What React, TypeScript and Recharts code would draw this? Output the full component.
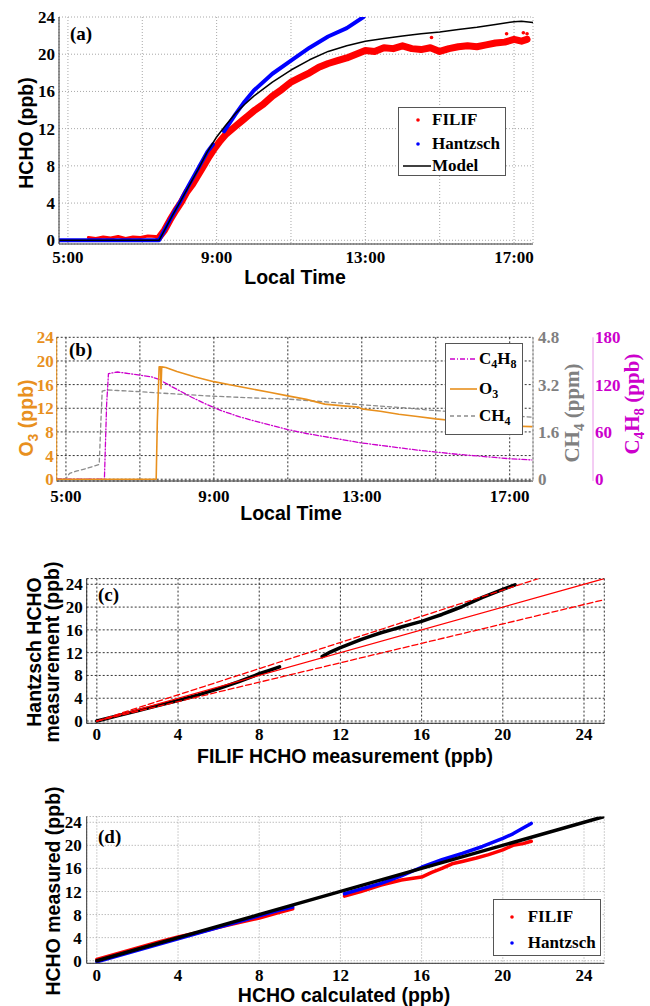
import React from "react";
import {
  ComposedChart,
  Line,
  Scatter,
  XAxis,
  YAxis,
  CartesianGrid,
  Legend,
  Label,
} from "recharts";

const SERIF = '"Liberation Serif", "Times New Roman", Times, serif';
const SANS = '"Liberation Sans", Arial, Helvetica, sans-serif';

// (a) HCHO time series (local time in hours)
const filifFlatTime = [5.55, 5.75, 5.95, 6.15, 6.35, 6.55, 6.75, 6.95, 7.15, 7.35, 7.45];
const filifFlatHcho = [0.3, 0.2, 0.35, 0.25, 0.4, 0.2, 0.35, 0.3, 0.45, 0.4, 0.3];
const filifTime = [
  7.45, 7.6, 7.75, 7.9, 8.05, 8.2, 8.35, 8.5, 8.65, 8.8, 8.95, 9.1, 9.25, 9.4, 9.55, 9.7,
  9.85, 10.0, 10.25, 10.5, 10.75, 11.0, 11.25, 11.5, 11.75, 12.0, 12.25, 12.5, 12.75, 13.0,
  13.25, 13.5, 13.75, 14.0, 14.25, 14.5, 14.75, 15.0, 15.25, 15.5, 15.75, 16.0, 16.25, 16.5,
  16.75, 17.0, 17.2, 17.35,
];
const filifHcho = [
  0.3, 1.1, 2.2, 3.2, 4.1, 5.2, 6.0, 7.0, 8.0, 9.0, 9.9, 10.7, 11.4, 11.9, 12.4, 12.9,
  13.4, 13.9, 14.6, 15.5, 16.2, 17.0, 17.5, 18.0, 18.6, 19.0, 19.3, 19.6, 20.0, 20.4,
  20.3, 20.7, 20.6, 20.9, 20.6, 20.5, 20.7, 20.3, 20.6, 20.8, 20.9, 20.8, 21.0, 21.2,
  21.3, 21.6, 21.4, 21.6,
];
const filifOutlierTime = [14.78, 16.8, 17.25, 17.35];
const filifOutlierHcho = [21.8, 22.2, 22.3, 22.2];
const hantzschTime = [4.76, 7.45, 7.6, 7.8, 8.0, 8.25, 8.5, 8.75, 8.9, 9.05, 9.2, 9.5, 9.75, 10.0, 10.5, 11.0, 11.5, 12.0, 12.5, 12.95];
const hantzschHcho = [0, 0, 1.1, 2.6, 4.0, 5.9, 7.7, 9.5, 10.3, null, 11.7, 13.5, 14.9, 16.1, 17.9, 19.3, 20.7, 21.9, 22.8, 24.0];
const modelTime = [
  4.76, 7.45, 7.6, 7.8, 8.0, 8.25, 8.5, 8.75, 9.0, 9.25, 9.5, 9.75, 10.0, 10.5, 11.0, 11.5,
  12.0, 12.5, 13.0, 13.5, 14.0, 14.5, 15.0, 15.5, 16.0, 16.5, 17.0, 17.2, 17.51,
];
const modelHcho = [
  0, 0, 1.1, 2.6, 4.0, 5.8, 7.6, 9.5, 11.1, 12.4, 13.6, 14.6, 15.5, 17.0, 18.3, 19.4,
  20.3, 20.9, 21.4, 21.7, 21.95, 22.2, 22.4, 22.65, 22.9, 23.2, 23.5, 23.55, 23.4,
];

// (b) O3, CH4, C4H8
const o3Time = [
  4.75, 7.44, 7.47, 7.52, 7.56, 7.57, 7.59, 7.7, 8.0, 8.5, 9.0, 9.5, 10.0, 10.5, 11.0, 11.5,
  12.0, 12.5, 12.9, 13.0, 13.5, 14.0, 14.5, 15.0, 15.5, 16.0, 16.5, 17.0, 17.6,
];
const o3Ppb = [
  0, 0, 9.5, 19.0, 19.0, 15.3, 19.0, 18.9, 18.2, 17.3, 16.5, 15.9, 15.3, 14.7, 14.1, 13.5,
  12.7, 12.4, 12.2, 11.9, 11.5, 11.0, 10.6, 10.2, 9.9, 9.6, 9.3, 9.0, 8.9,
];
const ch4Time = [4.75, 5.0, 5.1, 5.3, 5.6, 5.9, 5.94, 5.98, 6.1, 6.4, 7.0, 7.5, 8.0, 8.8, 9.5, 10.25, 11.0, 12.0, 13.0, 14.0, 15.0, 16.0, 17.0, 17.6];
const ch4Ppm = [0, 0.02, 0.2, 0.28, 0.38, 0.5, 1.8, 2.98, 3.02, 3.0, 2.96, 2.92, 2.88, 2.82, 2.78, 2.74, 2.71, 2.62, 2.52, 2.43, 2.32, 2.24, 2.15, 2.1];
const c4h8Time = [
  4.75, 6.04, 6.1, 6.15, 6.4, 6.7, 7.0, 7.3, 7.5, 7.8, 8.0, 8.4, 8.8, 9.2, 9.7, 10.25, 11.0,
  11.5, 12.0, 12.5, 13.0, 13.5, 14.0, 14.5, 15.0, 15.5, 16.0, 16.5, 17.0, 17.6,
];
const c4h8Ppb = [
  0, 0, 95, 134, 136, 134, 132, 130, 127, 119, 114, 104, 95, 87, 79, 72, 63,
  58, 54, 50, 46, 43, 40, 37, 34.5, 32, 30, 28, 26, 24.5,
];

// (c) Hantzsch vs FILIF
const hzVsFilifX = [0, 1, 2, 3, 4, 5, 6, 7, 8, 8.5, 9.0, 10.0, 11.1, 11.5, 12, 12.5, 13, 13.5, 14, 14.5, 15, 15.5, 16, 16.5, 17, 17.5, 18, 18.5, 19, 19.5, 20, 20.3, 20.6];
const hzVsFilifY = [0, 0.9, 1.8, 2.7, 3.6, 4.6, 5.7, 6.9, 8.3, 8.9, 9.5, null, 11.3, 12.1, 12.9, 13.6, 14.3, 14.9, 15.5, 16.0, 16.5, 17.0, 17.5, 18.1, 18.7, 19.4, 20.1, 20.9, 21.7, 22.4, 23.1, 23.5, 23.9];
const fitX = [0, 25];
const fitY = [0, 25];
const upperX = [0, 21.75];
const upperY = [0, 25];
const lowerX = [0, 25];
const lowerY = [0, 21.3];

// (d) measured vs calculated
const oneX = [0, 25];
const oneY = [0, 25];
const filifDX = [0, 1, 2, 3, 4, 5, 6, 7, 8, 9, 9.65, 11, 12.2, 13, 14, 15, 16, 16.5, 17, 17.5, 18, 18.7, 19.3, 20, 20.5, 21, 21.4];
const filifDY = [0.2, 1.2, 2.2, 3.2, 4.1, 4.9, 5.8, 6.6, 7.4, 8.4, 9.0, null, 11.2, 12.0, 13.1, 14.0, 14.5, 15.3, 16.0, 16.8, 17.2, 17.8, 18.4, 19.2, 20.0, 20.3, 20.7];
const hzDX = [0, 1, 2, 3, 4, 5, 6, 7, 8, 9, 9.65, 11, 12.2, 13, 14, 15, 16, 17, 18, 19, 19.5, 20, 20.5, 21, 21.4];
const hzDY = [-0.2, 0.8, 1.8, 2.8, 3.8, 4.8, 5.8, 6.8, 7.8, 8.8, 9.3, null, 11.6, 12.4, 13.4, 14.7, 16.2, 17.5, 18.6, 19.8, 20.5, 21.2, 22.0, 23.0, 23.8];

const hourTicks = [5, 7, 9, 11, 13, 15, 17];
const ppbTicks = [0, 4, 8, 12, 16, 20, 24];
const ch4Ticks = [0, 1.6, 3.2, 4.8];
const c4h8Ticks = [0, 60, 120, 180];

const ORANGE = "#e8901e";
const MAGENTA = "#cc00cc";
const GRAY = "#808080";

const pts = (xs: number[], ys: (number | null)[]) => xs.map((x, i) => ({ x, y: ys[i] }));
const hourLabel = (v: number) => (v % 4 === 1 ? `${v}:00` : "");

const tick = (fill = "#000") => ({ fontFamily: SERIF, fontWeight: 700, fontSize: 17, fill });
const title = (fill = "#000", font = SANS, size = 19.5) => ({ fontFamily: font, fontWeight: 700, fontSize: size, fill });
const letter = { fontFamily: SERIF, fontWeight: 700, fontSize: 19, fill: "#000" };

function vTitle(x: number, y: number, body: React.ReactNode, style: React.CSSProperties) {
  return (
    <text transform={`translate(${x},${y}) rotate(-90)`} textAnchor="middle" style={style}>
      {body}
    </text>
  );
}

const dotShape = (color: string) => (p: any) => <circle cx={p.cx} cy={p.cy} r={1.8} fill={color} />;

const boxStyle: React.CSSProperties = {
  position: "relative",
  boxSizing: "border-box",
  background: "#fff",
  border: "1px solid #555",
  fontFamily: SERIF,
  fontWeight: 700,
  fontSize: 17,
  color: "#000",
};

function LegendRow({ y, textX, marker, children }: { y: number; textX: number; marker: React.ReactNode; children: React.ReactNode }) {
  return (
    <div style={{ position: "absolute", left: 0, top: y - 11, height: 22, width: "100%" }}>
      <svg width={textX} height={22} style={{ position: "absolute", left: 0, top: 0 }}>
        {marker}
      </svg>
      <span style={{ position: "absolute", left: textX, top: 0, lineHeight: "22px", whiteSpace: "nowrap" }}>{children}</span>
    </div>
  );
}

const sub = (s: string) => <sub style={{ fontSize: 12, verticalAlign: -4 }}>{s}</sub>;

const common = { dataKey: "y", dot: false, isAnimationActive: false, strokeLinejoin: "round" as const, strokeLinecap: "round" as const };

function PanelA() {
  return (
    <ComposedChart width={650} height={300} margin={{ top: 17, right: 117, bottom: 0, left: 0 }}>
      <CartesianGrid stroke="#a8a8a8" strokeDasharray="1 2" />
      <XAxis type="number" dataKey="x" domain={[4.76, 17.51]} allowDataOverflow ticks={hourTicks} interval={0}
        tickFormatter={hourLabel} tick={tick()} tickLine={false} tickSize={5} tickMargin={2} height={56} stroke="#333">
        <Label content={() => <text x={295} y={284} textAnchor="middle" style={title()}>Local Time</text>} />
      </XAxis>
      <YAxis type="number" dataKey="y" domain={[-0.4, 24]} allowDataOverflow ticks={ppbTicks} interval={0}
        tick={tick()} tickLine={false} tickSize={2} tickMargin={2} width={59} stroke="#333">
        <Label content={() => (
          <g>
            {vTitle(33, 133, "HCHO (ppb)", title())}
            <text x={70} y={40} style={letter}>(a)</text>
          </g>
        )} />
      </YAxis>
      <Line {...common} data={pts(filifFlatTime, filifFlatHcho)} stroke="#ff0000" strokeWidth={3} />
      <Line {...common} data={pts(filifTime, filifHcho)} stroke="#ff0000" strokeWidth={7} />
      <Scatter data={pts(filifOutlierTime, filifOutlierHcho)} dataKey="y" fill="#ff0000" shape={dotShape("#ff0000")} isAnimationActive={false} />
      <Line {...common} data={pts(hantzschTime, hantzschHcho)} stroke="#0000ff" strokeWidth={4} />
      <Line {...common} data={pts(modelTime, modelHcho)} stroke="#000" strokeWidth={1.5} />
      <Legend verticalAlign="middle" align="center" layout="horizontal"
        wrapperStyle={{ left: 398, top: 107, width: 108, height: 69 }}
        content={() => (
          <div style={{ ...boxStyle, width: 108, height: 69 }}>
            <LegendRow y={12} textX={33} marker={<circle cx={19} cy={11} r={1.8} fill="#ff0000" />}>FILIF</LegendRow>
            <LegendRow y={36} textX={33} marker={<circle cx={19} cy={11} r={1.8} fill="#0000ff" />}>Hantzsch</LegendRow>
            <LegendRow y={58} textX={33} marker={<line x1={4} x2={32} y1={11} y2={11} stroke="#000" strokeWidth={1.5} />}>Model</LegendRow>
          </div>
        )} />
    </ComposedChart>
  );
}

function PanelB() {
  return (
    <ComposedChart width={650} height={220} margin={{ top: 27.3, right: 0, bottom: 0, left: 0 }}>
      <CartesianGrid yAxisId="o3" stroke="#333" strokeDasharray="2 2" />
      <XAxis type="number" dataKey="x" domain={[4.75, 17.63]} allowDataOverflow ticks={hourTicks} interval={0}
        tickFormatter={hourLabel} tick={tick()} tickLine={false} tickSize={7} tickMargin={2} height={49} stroke="#333">
        <Label content={() => <text x={291} y={210} textAnchor="middle" style={title()}>Local Time</text>} />
      </XAxis>
      <YAxis yAxisId="o3" type="number" dataKey="y" domain={[-0.3, 24]} allowDataOverflow ticks={ppbTicks} interval={0}
        tick={tick(ORANGE)} tickLine={false} tickSize={1} tickMargin={2} width={56.7} stroke={ORANGE}>
        <Label content={() => (
          <g>
            {vTitle(33, 108, <><tspan>O</tspan><tspan dy={5} fontSize={14}>3</tspan><tspan dy={-5}> (ppb)</tspan></>, title(ORANGE))}
            <text x={69} y={46} style={letter}>(b)</text>
          </g>
        )} />
      </YAxis>
      <YAxis yAxisId="r1" orientation="right" type="number" dataKey="y" domain={[-0.06, 4.8]} allowDataOverflow ticks={ch4Ticks} interval={0}
        tickFormatter={(v: number) => (v === 0 ? "0" : v.toFixed(1))}
        tick={tick(GRAY)} tickLine={false} tickSize={3} tickMargin={2} width={60} stroke="#b4b4b4">
        <Label content={() => vTitle(579, 103, <><tspan>CH</tspan><tspan dy={5} fontSize={15}>4</tspan><tspan dy={-5}> (ppm)</tspan></>, title(GRAY, SERIF, 21))} />
      </YAxis>
      <YAxis yAxisId="r2" orientation="right" type="number" dataKey="y" domain={[-2.25, 180]} allowDataOverflow ticks={c4h8Ticks} interval={0}
        tick={tick(MAGENTA)} tickLine={false} tickSize={0} tickMargin={2} width={57} stroke="#e89ae8">
        <Label content={() => vTitle(639, 94, <><tspan>C</tspan><tspan dy={5} fontSize={15}>4</tspan><tspan dy={-5}>H</tspan><tspan dy={5} fontSize={15}>8</tspan><tspan dy={-5}> (ppb)</tspan></>, title(MAGENTA, SERIF, 21))} />
      </YAxis>
      <Line {...common} yAxisId="r1" data={pts(ch4Time, ch4Ppm)} stroke="#8c8c8c" strokeWidth={1.3} strokeDasharray="4 3" />
      <Line {...common} yAxisId="r2" data={pts(c4h8Time, c4h8Ppb)} stroke={MAGENTA} strokeWidth={1.3} strokeDasharray="5 2 1 2" />
      <Line {...common} yAxisId="o3" data={pts(o3Time, o3Ppb)} stroke={ORANGE} strokeWidth={1.6} />
      <Legend verticalAlign="middle" align="center" layout="horizontal"
        wrapperStyle={{ left: 445, top: 33.3, width: 78, height: 92 }}
        content={() => (
          <div style={{ ...boxStyle, width: 78, height: 92 }}>
            <LegendRow y={15} textX={33} marker={<line x1={4} x2={31} y1={11} y2={11} stroke={MAGENTA} strokeWidth={1.3} strokeDasharray="5 2 1 2" />}>C{sub("4")}H{sub("8")}</LegendRow>
            <LegendRow y={45} textX={33} marker={<line x1={4} x2={31} y1={11} y2={11} stroke={ORANGE} strokeWidth={1.6} />}>O{sub("3")}</LegendRow>
            <LegendRow y={72} textX={33} marker={<line x1={4} x2={31} y1={11} y2={11} stroke="#8c8c8c" strokeWidth={1.3} strokeDasharray="4 3" />}>CH{sub("4")}</LegendRow>
          </div>
        )} />
    </ComposedChart>
  );
}

function PanelC() {
  return (
    <ComposedChart width={650} height={228} margin={{ top: 38.6, right: 45.7, bottom: 0, left: 0 }}>
      <CartesianGrid stroke="#333" strokeDasharray="2 2" />
      <XAxis type="number" dataKey="x" domain={[-0.5, 25]} allowDataOverflow ticks={ppbTicks} interval={0}
        tick={tick()} tickLine={false} tickSize={3} tickMargin={2} height={44.7} stroke="#333">
        <Label content={() => <text x={345} y={223} textAnchor="middle" style={title()}>FILIF HCHO measurement (ppb)</text>} />
      </XAxis>
      <YAxis type="number" dataKey="y" domain={[-0.4, 25]} allowDataOverflow ticks={ppbTicks} interval={0}
        tick={tick()} tickLine={false} tickSize={2} tickMargin={2} width={86.7} stroke="#333">
        <Label content={() => (
          <g>
            {vTitle(41, 112, "Hantzsch HCHO", title())}
            {vTitle(59, 112, "measurement (ppb)", title())}
            <text x={98} y={61} style={letter}>(c)</text>
          </g>
        )} />
      </YAxis>
      <Line {...common} data={pts(hzVsFilifX, hzVsFilifY)} stroke="#000" strokeWidth={3.5} />
      <Line {...common} data={pts(upperX, upperY)} stroke="#ff0000" strokeWidth={1.3} strokeDasharray="6 3" />
      <Line {...common} data={pts(fitX, fitY)} stroke="#ff0000" strokeWidth={1.3} />
      <Line {...common} data={pts(lowerX, lowerY)} stroke="#ff0000" strokeWidth={1.3} strokeDasharray="6 3" />
    </ComposedChart>
  );
}

function PanelD() {
  return (
    <ComposedChart width={650} height={236} margin={{ top: 46.5, right: 45.7, bottom: 0, left: 0 }}>
      <CartesianGrid stroke="#a0a0a0" strokeDasharray="1 2" />
      <XAxis type="number" dataKey="x" domain={[-0.5, 25]} allowDataOverflow ticks={ppbTicks} interval={0}
        tick={tick()} tickLine={false} tickSize={4} tickMargin={2} height={42.7} stroke="#333">
        <Label content={() => <text x={344} y={231.5} textAnchor="middle" style={title()}>HCHO calculated (ppb)</text>} />
      </XAxis>
      <YAxis type="number" dataKey="y" domain={[-0.45, 25]} allowDataOverflow ticks={ppbTicks} interval={0}
        tick={tick()} tickLine={false} tickSize={3} tickMargin={2} width={86.7} stroke="#333">
        <Label content={() => (
          <g>
            {vTitle(59.5, 121, "HCHO measured (ppb)", title())}
            <text x={98} y={73} style={letter}>(d)</text>
          </g>
        )} />
      </YAxis>
      <Line {...common} data={pts(filifDX, filifDY)} stroke="#ff0000" strokeWidth={3.5} />
      <Line {...common} data={pts(hzDX, hzDY)} stroke="#0000ff" strokeWidth={3.5} />
      <Line {...common} data={pts(oneX, oneY)} stroke="#000" strokeWidth={3.5} />
      <Legend verticalAlign="middle" align="center" layout="horizontal"
        wrapperStyle={{ left: 492.7, top: 129.3, width: 108, height: 57 }}
        content={() => (
          <div style={{ ...boxStyle, width: 108, height: 57 }}>
            <LegendRow y={16.7} textX={34} marker={<circle cx={18} cy={11} r={1.8} fill="#ff0000" />}>FILIF</LegendRow>
            <LegendRow y={42.4} textX={34} marker={<circle cx={18} cy={11} r={1.8} fill="#0000ff" />}>Hantzsch</LegendRow>
          </div>
        )} />
    </ComposedChart>
  );
}

export default function App() {
  return (
    <div style={{ position: "absolute", left: 0, top: 0, width: 650, height: 1006, background: "#fff", overflow: "hidden" }}>
      <div style={{ position: "absolute", left: 0, top: 0 }}>
        <PanelA />
      </div>
      <div style={{ position: "absolute", left: 0, top: 310 }}>
        <PanelB />
      </div>
      <div style={{ position: "absolute", left: 0, top: 540 }}>
        <PanelC />
      </div>
      <div style={{ position: "absolute", left: 0, top: 770 }}>
        <PanelD />
      </div>
    </div>
  );
}
